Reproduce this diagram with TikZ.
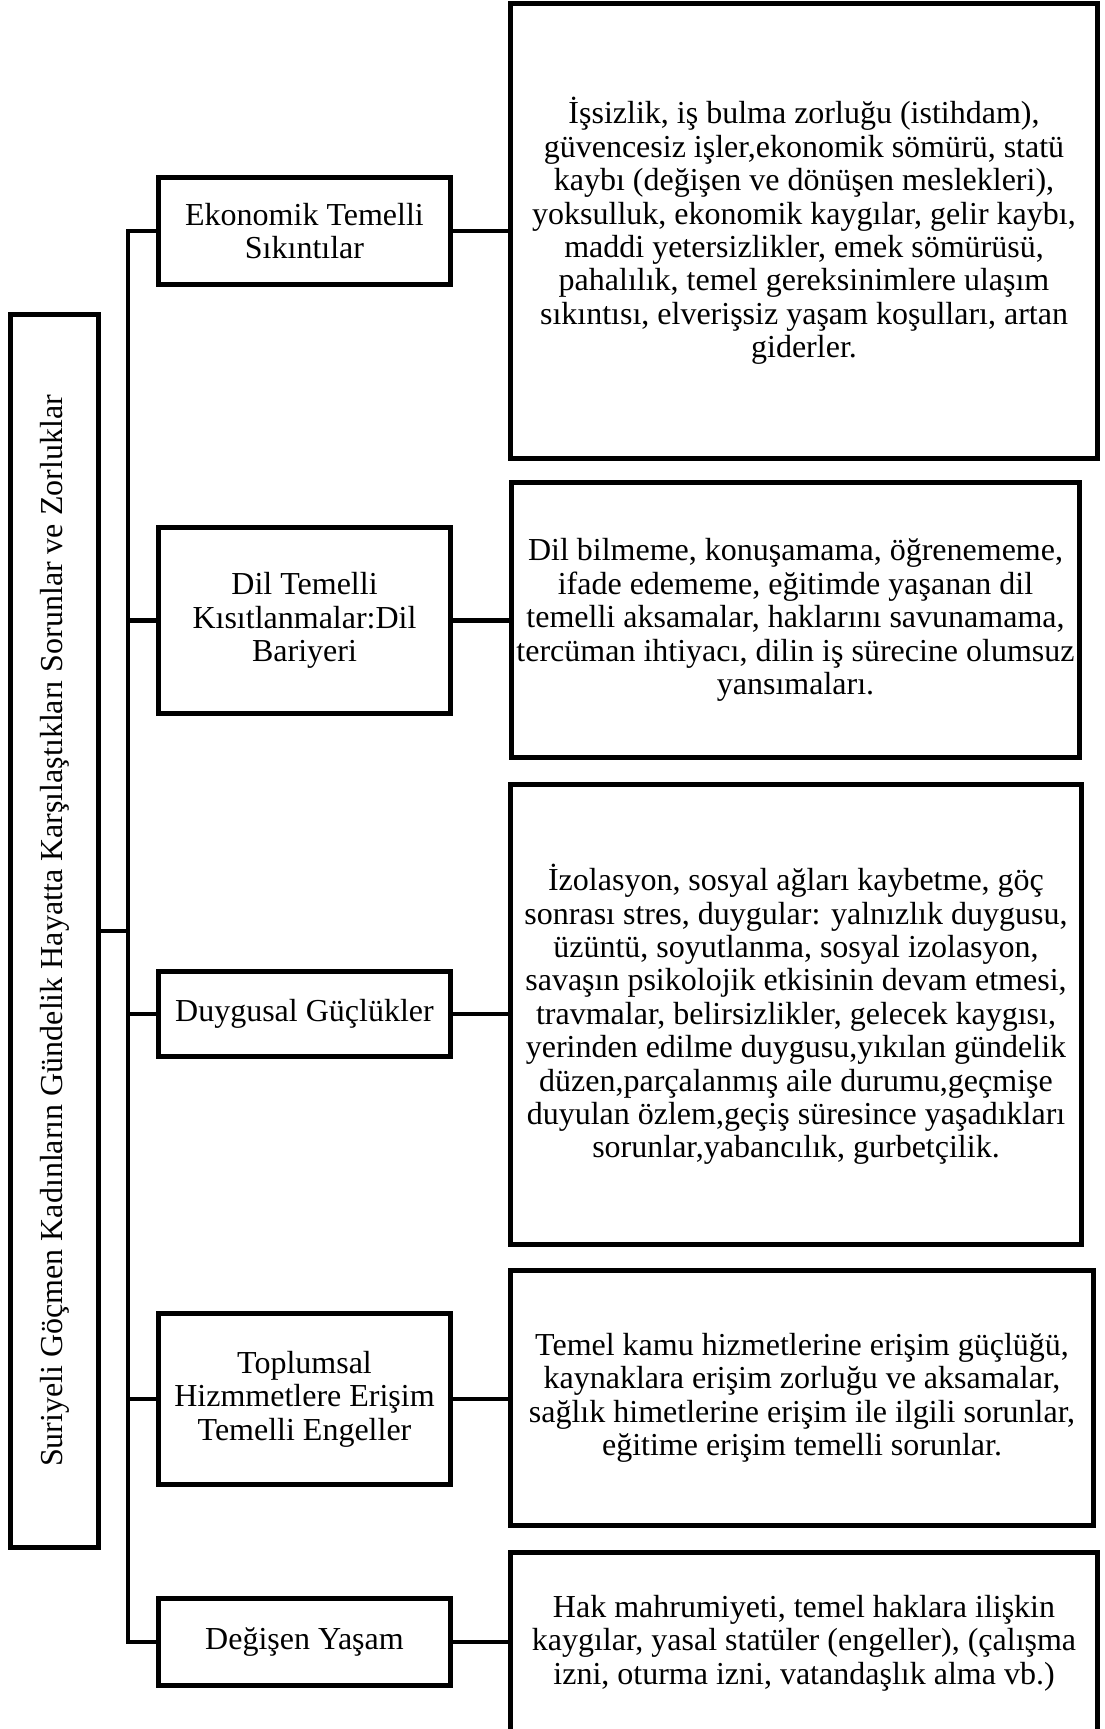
\documentclass[tikz,border=0pt]{standalone}
\usepackage{fontspec}
\setmainfont{Liberation Serif}
\begin{document}
\begin{tikzpicture}[x=1pt,y=-1pt,line width=4.8pt,line join=miter,
  box/.style={draw,rectangle,inner sep=0pt,align=center,font=\fontsize{32}{33.4}\selectfont},
  link/.style={draw,line width=4.8pt}]
\useasboundingbox (0,0) rectangle (1105,1729);
\clip (0,0) rectangle (1105,1729);
\fill[white] (0,0) rectangle (1105,1729);
% title
\node[box,rotate=90,minimum width=1233pt,minimum height=88.2pt] (title) at (54.5,931)
  {Suriyeli Göçmen Kadınların Gündelik Hayatta Karşılaştıkları Sorunlar ve Zorluklar};
% left boxes
\node[box,minimum width=292pt,minimum height=107pt] (l1) at (304.5,231) {Ekonomik Temelli\\Sıkıntılar};
\node[box,minimum width=292pt,minimum height=186pt] (l2) at (304.5,620.5) {Dil Temelli\\Kısıtlanmalar:Dil\\Bariyeri};
\node[box,minimum width=292pt,minimum height=85pt] (l3) at (304.5,1014) {Duygusal Güçlükler};
\node[box,minimum width=292pt,minimum height=171pt] (l4) at (304.5,1399) {Toplumsal\\Hizmmetlere Erişim\\Temelli Engeller};
\node[box,minimum width=292pt,minimum height=87pt] (l5) at (304.5,1642) {Değişen Yaşam};
% right boxes
\node[box,minimum width=587pt,minimum height=455pt] (r1) at (804,231)
 {İşsizlik, iş bulma zorluğu (istihdam),\\güvencesiz işler,ekonomik sömürü, statü\\kaybı (değişen ve dönüşen meslekleri),\\yoksulluk, ekonomik kaygılar, gelir kaybı,\\maddi yetersizlikler, emek sömürüsü,\\pahalılık, temel gereksinimlere ulaşım\\sıkıntısı, elverişsiz yaşam koşulları, artan\\giderler.};
\node[box,minimum width=568pt,minimum height=275pt] (r2) at (795.5,620)
 {Dil bilmeme, konuşamama, öğrenememe,\\ifade edememe, eğitimde yaşanan dil\\temelli aksamalar, haklarını savunamama,\\tercüman ihtiyacı, dilin iş sürecine olumsuz\\yansımaları.};
\node[box,minimum width=571pt,minimum height=460pt] (r3) at (796,1014.5)
 {İzolasyon, sosyal ağları kaybetme, göç\\sonrası stres, duygular: yalnızlık duygusu,\\üzüntü, soyutlanma, sosyal izolasyon,\\savaşın psikolojik etkisinin devam etmesi,\\travmalar, belirsizlikler, gelecek kaygısı,\\yerinden edilme duygusu,yıkılan gündelik\\düzen,parçalanmış aile durumu,geçmişe\\duyulan özlem,geçiş süresince yaşadıkları\\sorunlar,yabancılık, gurbetçilik.};
\node[box,minimum width=583pt,minimum height=255pt] (r4) at (802,1398)
 {Temel kamu hizmetlerine erişim güçlüğü,\\kaynaklara erişim zorluğu ve aksamalar,\\sağlık himetlerine erişim ile ilgili sorunlar,\\eğitime erişim temelli sorunlar.};
\node[box,minimum width=587pt,minimum height=181pt] (r5) at (804,1643)
 {Hak mahrumiyeti, temel haklara ilişkin\\kaygılar, yasal statüler (engeller), (çalışma\\izni, oturma izni, vatandaşlık alma vb.)};
% connectors
\coordinate (jt) at (128,231);
\coordinate (jb) at (128,1642);
\draw[link] (l1.west) -- (jt) -- (jb) -- (l5.west);
\foreach \i in {2,3,4} {\draw[link] (l\i.west) -- (l\i.west -| jt);}
\draw[link] (title.south) -- (title.south -| jt);
\foreach \i in {1,...,5} {\draw[link] (l\i.east) -- (l\i.east -| r\i.west);}
\end{tikzpicture}
\end{document}
